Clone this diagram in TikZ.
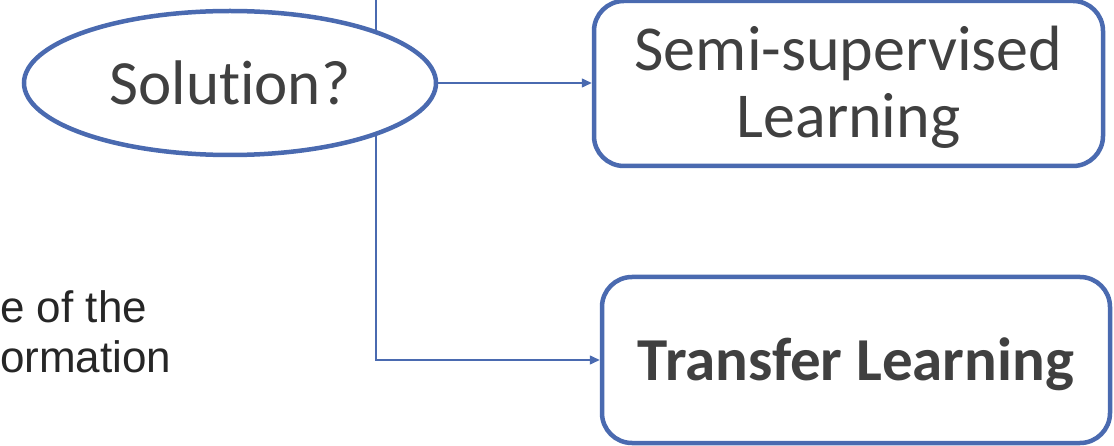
\documentclass[tikz,border=0pt]{standalone}
\usepackage{fontspec}
\setmainfont{Carlito}[RawFeature=-liga]
\newfontfamily\arialfont{Liberation Sans}
\usetikzlibrary{shapes.geometric,arrows.meta}
\definecolor{flowblue}{HTML}{4A6AB0}
\definecolor{ink}{HTML}{404040}
\definecolor{bodyink}{HTML}{262626}
\tikzset{
  shapeline/.style={draw=flowblue,line width=4.5pt,fill=white,inner sep=0pt,text=ink},
  choice/.style={shapeline,ellipse,minimum width=412pt,minimum height=144pt,
    font=\fontsize{63}{67}\selectfont},
  method/.style={shapeline,rectangle,rounded corners=30pt},
  label text/.style={inner sep=0pt,align=center,text=ink,
    font=\fontsize{64}{67}\selectfont},
  conn/.style={draw=flowblue,line width=1.5pt,-{Triangle[length=10pt,width=9pt]}},
  bodytext/.style={inner sep=0pt,anchor=base west,text=bodyink,
    font=\arialfont\fontsize{44}{50}\selectfont}
}
\begin{document}
\begin{tikzpicture}[x=1pt,y=-1pt]
  \path[use as bounding box,clip] (0,0) rectangle (1114,446);
  % text running in from the left
  \node[bodytext] (line1) at (0,323) {e of the};
  \node[bodytext] (line2) at (0,373) {ormation};
  % the two candidate methods
  \node[method,minimum width=509pt,minimum height=165pt] (semi) at (848.5,83.5) {};
  \node[label text] (semitext) at ([yshift=-4pt]semi.center) {Semi-supervised\\Learning};
  \node[method,minimum width=508pt,minimum height=166pt] (transfer) at (856,360) {};
  \node[label text,font=\bfseries\fontsize{61}{67}\selectfont] (transfertext)
    at ([yshift=-4pt]transfer.center) {Transfer Learning};
  % trunk line entering from above, passing behind the question
  \coordinate (top) at (376,0);
  \draw[conn] (top) |- (transfer.west);
  % the question
  \node[choice] (sol) at (230,83) {Solution?};
  \draw[conn] (sol.east) -- (sol.east -| semi.west);
\end{tikzpicture}
\end{document}
